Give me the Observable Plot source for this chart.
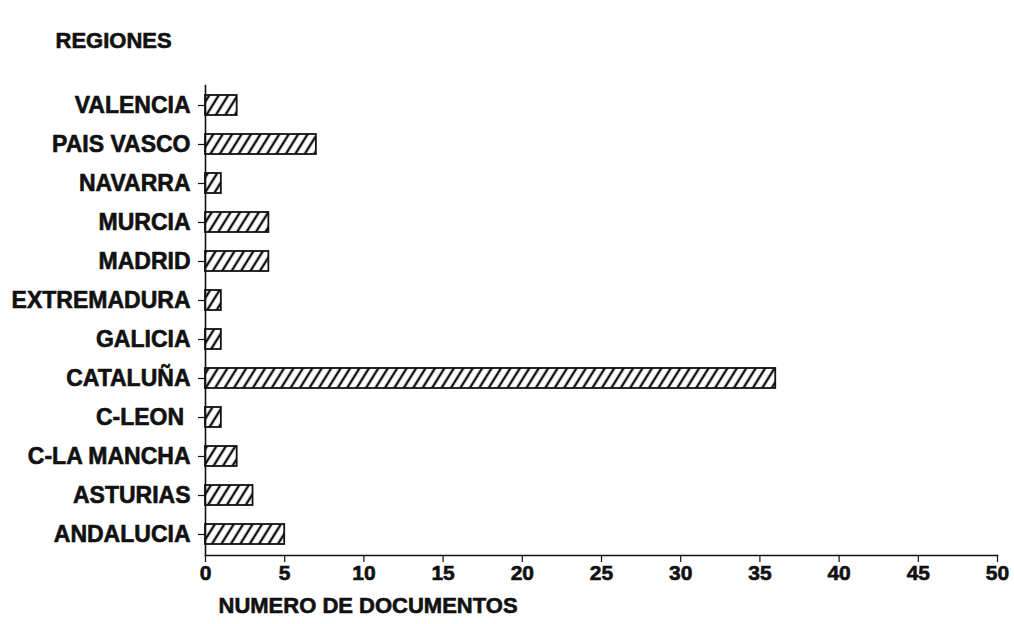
<!DOCTYPE html>
<html>
<head>
<meta charset="utf-8">
<script src="https://cdn.jsdelivr.net/npm/d3@7"></script>
<script src="https://cdn.jsdelivr.net/npm/@observablehq/plot@0.6"></script>
<style>
  html, body { margin: 0; padding: 0; background: #fff; }
  #chart { width: 1014px; height: 624px; }
  #chart svg text { stroke: #111; stroke-width: 0.6px; }
</style>
</head>
<body>
<div id="chart"></div>
<script>
const regions = ["VALENCIA", "PAIS VASCO", "NAVARRA", "MURCIA", "MADRID", "EXTREMADURA", "GALICIA", "CATALUÑA", "C-LEON ", "C-LA MANCHA", "ASTURIAS", "ANDALUCIA"];
const documents = [2, 7, 1, 4, 4, 1, 1, 36, 1, 2, 3, 5];
const xTicks = [0, 5, 10, 15, 20, 25, 30, 35, 40, 45, 50];
const yTitle = "REGIONES";
const xTitle = "NUMERO DE DOCUMENTOS";

const data = regions.map((r, i) => ({region: r, value: documents[i]}));
const font = "'Liberation Sans', Arial, sans-serif";

const plot = Plot.plot({
  width: 1014,
  height: 624,
  marginLeft: 205,
  marginRight: 17,
  marginTop: 85,
  marginBottom: 69,
  style: {fontFamily: font, fontWeight: "bold", color: "#111", background: "#fff"},
  x: {domain: [0, 50]},
  y: {domain: regions, paddingInner: 0.48, paddingOuter: 0.24},
  marks: [
    Plot.barX(data, {x: "value", y: "region", fill: "url(#hatch)", stroke: "#111", strokeWidth: 1.8}),
    Plot.frame({anchor: "left", stroke: "#111", strokeWidth: 1.6}),
    Plot.frame({anchor: "bottom", stroke: "#111", strokeWidth: 1.6}),
    Plot.axisY({tickSize: 7, tickPadding: 8, fontSize: 23, fontWeight: "bold", label: null, stroke: "#111", strokeWidth: 1.2, style: {letterSpacing: "-0.6px"}}),
    Plot.axisX({ticks: xTicks, tickSize: 7, tickPadding: 3, fontSize: 21, fontWeight: "bold", label: null, stroke: "#111", strokeWidth: 1.2, style: {letterSpacing: "-1px"}}),
    Plot.text([yTitle], {frameAnchor: "top-left", dx: -150, dy: -53, textAnchor: "start", fontSize: 22, fontWeight: "bold", fill: "#111", style: {letterSpacing: "0.6px"}}),
    Plot.text([xTitle], {frameAnchor: "bottom-left", dx: 13, dy: 57, textAnchor: "start", fontSize: 22, fontWeight: "bold", fill: "#111", style: {letterSpacing: "0.4px"}})
  ]
});

const svg = d3.select(plot);
const defs = svg.insert("defs", ":first-child");
const pat = defs.append("pattern")
  .attr("id", "hatch")
  .attr("patternUnits", "userSpaceOnUse")
  .attr("width", 8)
  .attr("height", 8)
  .attr("patternTransform", "rotate(32)");
pat.append("rect").attr("width", 8).attr("height", 8).attr("fill", "#fff");
pat.append("line").attr("x1", 4).attr("y1", -1).attr("x2", 4).attr("y2", 9)
  .attr("stroke", "#111").attr("stroke-width", 2.4);

document.getElementById("chart").appendChild(plot);
</script>
</body>
</html>
